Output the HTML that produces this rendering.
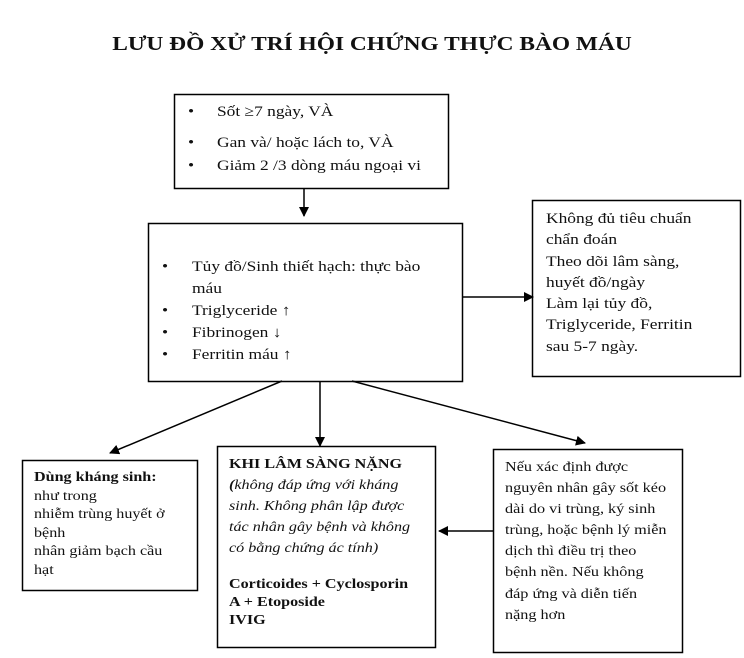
<!DOCTYPE html>
<html><head><meta charset="utf-8"><style>
body{margin:0;width:744px;height:658px;background:#fff;position:relative;font-family:"Liberation Serif","DejaVu Serif",serif;color:#111;overflow:hidden}
.t{position:absolute;white-space:nowrap;font-size:15px;transform:scaleX(1.16);transform-origin:0 0}
.title{position:absolute;left:0;width:744px;top:33px;text-align:center;font-weight:bold;font-size:20px;transform:scaleX(1.17);transform-origin:372px 0;white-space:nowrap}
.b{position:absolute;font-size:14px;line-height:18.5px;white-space:nowrap;transform:scaleX(1.15);transform-origin:0 0}
</style></head><body>
<div class="title">LƯU ĐỒ XỬ TRÍ HỘI CHỨNG THỰC BÀO MÁU</div>
<svg width="744" height="658" style="position:absolute;left:0;top:0" xmlns="http://www.w3.org/2000/svg">
<defs><marker id="a" markerWidth="10" markerHeight="10" refX="9" refY="5" orient="auto" markerUnits="userSpaceOnUse"><path d="M0,0 L10,5 L0,10 z" fill="#000"/></marker></defs>
<g fill="none" stroke="#000" stroke-width="1.5">
<rect x="174.5" y="94.5" width="274" height="94"/>
<rect x="148.5" y="223.5" width="314" height="158"/>
<rect x="532.5" y="200.5" width="208" height="176"/>
<rect x="22.5" y="460.5" width="175" height="130"/>
<rect x="217.5" y="446.5" width="218" height="201"/>
<rect x="493.5" y="449.5" width="189" height="203"/>
<line x1="304" y1="188" x2="304" y2="216" marker-end="url(#a)"/>
<line x1="462" y1="297" x2="533" y2="297" marker-end="url(#a)"/>
<line x1="282" y1="381" x2="110" y2="453" marker-end="url(#a)"/>
<line x1="320" y1="381" x2="320" y2="446" marker-end="url(#a)"/>
<line x1="352" y1="381" x2="585" y2="443" marker-end="url(#a)"/>
<line x1="493" y1="531" x2="439" y2="531" marker-end="url(#a)"/>
</g></svg>
<div class="t" style="left:188px;top:104px">•</div><div class="t" style="left:217px;top:104px">Sốt ≥7 ngày, VÀ</div>
<div class="t" style="left:188px;top:135px">•</div><div class="t" style="left:217px;top:135px">Gan và/ hoặc lách to, VÀ</div>
<div class="t" style="left:188px;top:158px">•</div><div class="t" style="left:217px;top:158px">Giảm 2 /3 dòng máu ngoại vi</div>
<div class="t" style="left:162px;top:259px">•</div><div class="t" style="left:192px;top:259px">Tủy đồ/Sinh thiết hạch: thực bào</div>
<div class="t" style="left:192px;top:281px">máu</div>
<div class="t" style="left:162px;top:303px">•</div><div class="t" style="left:192px;top:303px">Triglyceride ↑</div>
<div class="t" style="left:162px;top:325px">•</div><div class="t" style="left:192px;top:325px">Fibrinogen ↓</div>
<div class="t" style="left:162px;top:347px">•</div><div class="t" style="left:192px;top:347px">Ferritin  máu ↑</div>
<div class="t" style="left:546px;top:209px;line-height:21.3px">Không đủ tiêu chuẩn<br>chẩn đoán<br>Theo dõi lâm sàng,<br>huyết đồ/ngày<br>Làm lại tủy đồ,<br>Triglyceride, Ferritin<br>sau 5-7 ngày.</div>
<div class="b" style="left:34px;top:469px"><b>Dùng kháng sinh:</b><br>như trong<br>nhiễm trùng huyết ở<br>bệnh<br>nhân giảm bạch cầu<br>hạt</div>
<div class="b" style="left:229px;top:454px;line-height:21px"><b>KHI LÂM SÀNG NẶNG</b><br><i><b>(</b>không đáp ứng với kháng<br>sinh. Không phân lập được<br>tác nhân gây bệnh và không<br>có bằng chứng ác tính)</i></div>
<div class="b" style="left:229px;top:576px;line-height:18px;font-weight:bold">Corticoides + Cyclosporin<br>A + Etoposide<br>IVIG</div>
<div class="b" style="left:505px;top:456px;line-height:21.1px;font-size:13.5px;transform:scaleX(1.2)">Nếu xác định được<br>nguyên nhân gây sốt kéo<br>dài  do vi trùng, ký sinh<br>trùng, hoặc bệnh lý miễn<br>dịch thì điều trị theo<br>bệnh nền. Nếu không<br>đáp ứng và diễn tiến<br>nặng hơn</div>
</body></html>
